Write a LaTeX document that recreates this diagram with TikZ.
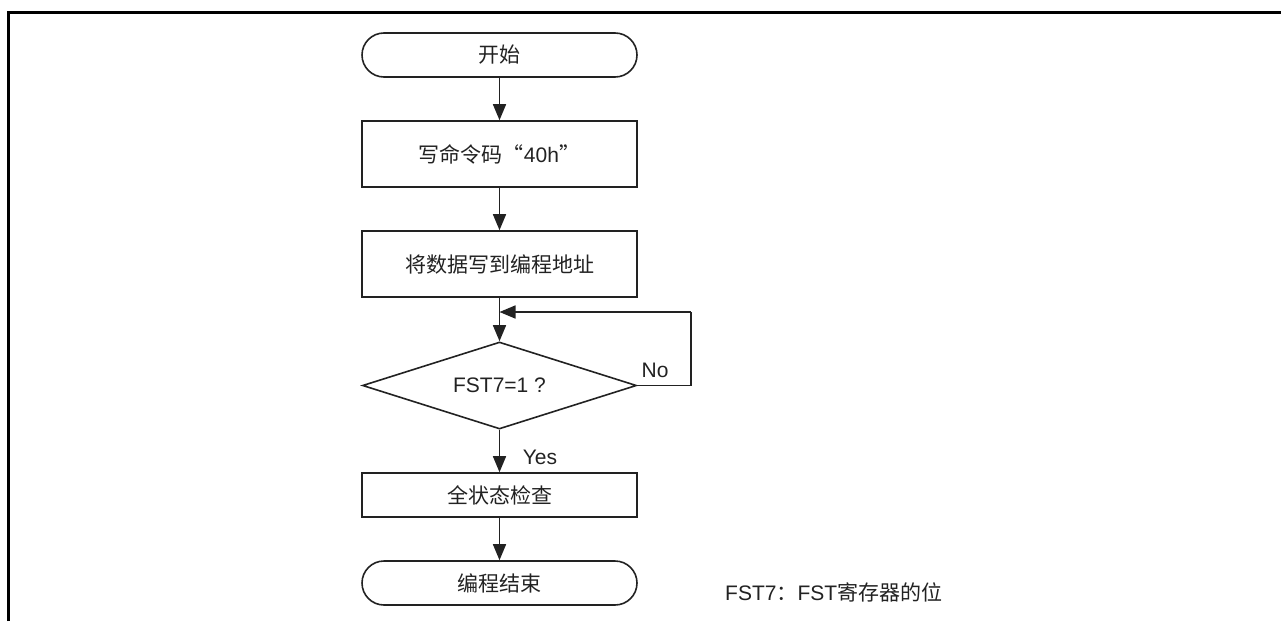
\documentclass[tikz,border=0pt]{standalone}
\usepackage{fontspec}
\setmainfont{Liberation Sans}
\newfontfamily\cjk{Noto Sans CJK SC}
\usetikzlibrary{arrows.meta,shapes.geometric}
\definecolor{ink}{HTML}{222222}
\tikzset{
  base/.style={draw=ink, line width=1.6pt, text=ink, font=\fontsize{21}{24}\selectfont, inner sep=0pt},
  term/.style={base, rectangle, rounded corners=22pt, minimum width=275pt, minimum height=44pt},
  proc/.style={base, rectangle, minimum width=275pt},
  dec/.style={base, diamond, aspect=3.15, minimum width=274pt, minimum height=87pt},
  lbl/.style={text=ink, font=\fontsize{21}{24}\selectfont, inner sep=0pt},
  flow/.style={draw=ink, line width=1.6pt, -{Triangle[length=16pt,width=13pt]}},
  plain/.style={draw=ink, line width=1.6pt}
}
\begin{document}
\begin{tikzpicture}[x=1pt,y=-1pt]
\useasboundingbox (0,0) rectangle (1281,621);
\draw[line width=3pt, black] (8.7,621) -- (8.7,12.5) -- (1281,12.5);

\node[term] (start) at (499.5,55) {\cjk 开始};
\node[proc, minimum height=66pt] (cmd) at (499.5,154) {{\cjk 写命令码“}40h{\cjk ”}};
\node[proc, minimum height=66pt] (write) at (499.5,264) {\cjk 将数据写到编程地址};
\node[dec] (chk) at (499.5,385.5) {FST7=1 ?};
\node[proc, minimum height=44pt] (stat) at (499.5,495) {\cjk 全状态检查};
\node[term] (stop) at (499.5,583) {\cjk 编程结束};

\coordinate (lp) at (691,312);
\coordinate (mj) at (499.5,312);

\draw[flow] (start) -- (cmd);
\draw[flow] (cmd) -- (write);
\draw[flow] (write) -- (chk);
\draw[plain] (chk.east) -| (lp);
\draw[flow] (lp) -- (mj);
\draw[flow] (chk) -- (stat);
\draw[flow] (stat) -- (stop);

\node[lbl] (no) at (655,370) {No};
\node[lbl] (yes) at (540,457) {Yes};
\node[lbl, anchor=west] (note) at (725,592) {FST7{\cjk ：}FST{\cjk 寄存器的位}};
\end{tikzpicture}
\end{document}
